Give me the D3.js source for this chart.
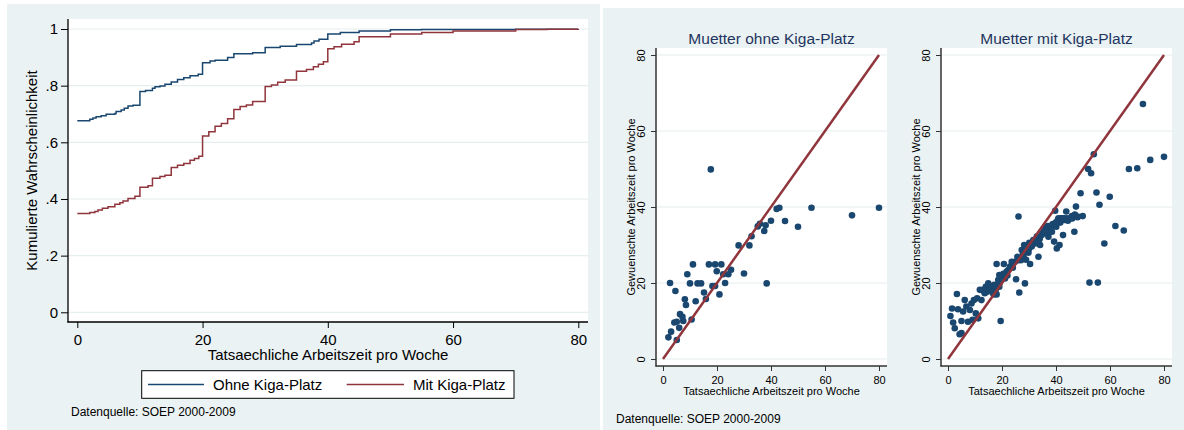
<!DOCTYPE html>
<html>
<head>
<meta charset="utf-8">
<script src="https://cdn.jsdelivr.net/npm/d3@7"></script>
<style>
  body { margin: 0; background: #fff; }
  svg { display: block; }
  text { font-family: "Liberation Sans", Arial, sans-serif; }
</style>
</head>
<body>
<svg id="chart" width="1184" height="430"></svg>
<script>
// ---- data: cumulative distribution (left chart) ----
var ohneHours = [0, 2, 2.5, 3, 3.8, 4.6, 6, 6.2, 7, 7.5, 8.1, 8.9, 10, 10.9, 12, 12.4, 13.2, 14, 15, 16, 17, 18, 19.3, 20, 21.2, 22, 24, 25, 28, 30, 32.4, 35, 37.4, 37.8, 38.6, 40, 42, 45, 50, 55, 70, 80];
var ohneCum   = [0.676, 0.681, 0.686, 0.690, 0.694, 0.699, 0.702, 0.709, 0.714, 0.720, 0.728, 0.731, 0.779, 0.783, 0.791, 0.796, 0.799, 0.805, 0.813, 0.822, 0.828, 0.835, 0.840, 0.881, 0.887, 0.890, 0.899, 0.913, 0.916, 0.935, 0.939, 0.945, 0.951, 0.958, 0.964, 0.982, 0.988, 0.993, 0.997, 0.998, 0.999, 1.0];

var mitHours = [0, 2, 2.8, 3.3, 4, 4.9, 6, 6.8, 7.3, 8.1, 9.2, 10, 11.3, 12, 13.2, 14, 15, 16, 17, 18, 18.7, 19.4, 20, 21, 22, 23, 24, 25, 26, 27, 28, 30, 31, 32, 33.2, 35, 36.6, 37.7, 38.5, 39.3, 40, 41, 42.2, 44.2, 45, 50, 55, 60, 70, 75, 80];
var mitCum   = [0.349, 0.352, 0.356, 0.361, 0.367, 0.373, 0.381, 0.387, 0.393, 0.402, 0.410, 0.441, 0.447, 0.473, 0.479, 0.484, 0.511, 0.519, 0.525, 0.537, 0.543, 0.551, 0.622, 0.637, 0.657, 0.666, 0.683, 0.716, 0.726, 0.732, 0.744, 0.797, 0.802, 0.812, 0.820, 0.851, 0.857, 0.867, 0.876, 0.884, 0.930, 0.937, 0.946, 0.955, 0.973, 0.982, 0.988, 0.993, 0.998, 0.999, 1.0];

var cdfXTicks = [0, 20, 40, 60, 80];
var cdfYTicks = [0, 0.2, 0.4, 0.6, 0.8, 1];
var cdfYLabels = ["0", ".2", ".4", ".6", ".8", "1"];
var legendLabels = ["Ohne Kiga-Platz", "Mit Kiga-Platz"];

// ---- data: scatter (right charts), actual vs. desired hours ----
var ohneActual  = [2, 3, 2.6, 4.6, 4.2, 5.1, 5.1, 6.3, 6, 7.2, 7.5, 8.1, 8.5, 9, 10, 10.6, 11.1, 12.1, 12.8, 14.1, 15.2, 15.9, 17, 18.3, 19.3, 19.9, 19.3, 20.9, 21.6, 22.3, 23, 24.2, 25.2, 28, 30, 32, 32.8, 35.1, 35.9, 37.5, 38, 38.4, 40, 42.1, 43.1, 45.2, 50, 55, 70, 80, 17.7];
var ohneDesired = [5.7, 7.2, 20, 17.9, 9.6, 9.8, 5, 11.8, 8.2, 11.1, 10, 15.7, 14.2, 22.3, 19.9, 10.4, 24.9, 15.2, 19.9, 19.9, 17.5, 15.8, 24.9, 19.2, 24.9, 23.1, 19.2, 17, 24.9, 22.3, 20, 22.3, 23.5, 29.9, 22.5, 29.9, 32.3, 34.9, 35.6, 33.7, 35.2, 19.9, 36.4, 39.5, 39.8, 36.3, 34.8, 39.8, 37.8, 39.8, 49.9];

var mitActual  = [0.9, 1.5, 1.9, 2.5, 3.3, 3.7, 4.3, 5, 5, 5.6, 6.2, 6.8, 7.4, 8.1, 8.7, 9.1, 9.6, 10.3, 10.8, 11.2, 11.8, 12.4, 12.8, 13.6, 14, 14.5, 14.9, 15.5, 16.1, 16.7, 17.1, 17.6, 18, 18.2, 18.6, 19, 19.2, 19.5, 19.9, 20.5, 20.7, 21.1, 21.7, 22.3, 23, 23.6, 24.2, 24.8, 25.2, 25.7, 26.1, 26.4, 26.7, 27.3, 27.7, 28.2, 28.5, 28.9, 29.2, 29.8, 30.1, 30.4, 31, 31.6, 32.3, 32.9, 33.5, 33.9, 34.1, 34.7, 35.4, 36, 36.4, 36.8, 37.2, 37.8, 38.5, 38.8, 39.3, 39.7, 40.1, 40.3, 40.7, 40.9, 41.3, 41.6, 42.2, 42.6, 43.1, 43.8, 44.4, 45.3, 45.9, 46.8, 47.4, 48, 49.1, 49.9, 51.9, 52.4, 53, 54, 55, 55.5, 56.1, 57.9, 59.9, 62, 65.1, 67, 70.1, 72.2, 74.9, 80,
                  13, 15, 16, 17, 18, 19, 21, 22, 24, 26, 27, 28, 29, 30, 31, 33, 34, 35, 36, 37, 38, 39, 40, 41, 42, 43, 44, 46, 47, 48];
var mitDesired = [11.3, 13.3, 9.6, 8.1, 17.1, 13.1, 6.5, 6.8, 10, 12.5, 15.5, 13.8, 9.8, 12.9, 14.6, 10.3, 15.5, 12, 16, 10.7, 18.2, 15.5, 18.2, 17.3, 19, 17.7, 19.9, 18.3, 19, 17.3, 19.5, 18, 25, 18.9, 20.8, 22.1, 20.1, 10, 21.7, 22.4, 25, 21.2, 23, 23.4, 24.3, 25.6, 25.2, 25.6, 21, 26.9, 37.5, 17.5, 26.5, 28.7, 27.4, 30, 19.9, 26.1, 28.7, 28, 30.6, 25, 29.6, 31.3, 30.4, 32.2, 26.9, 31.5, 30, 32.6, 33.5, 34.8, 33.1, 34.1, 32.2, 35, 33.5, 35.5, 30.9, 39, 34.8, 29.1, 36.6, 37, 30, 35.9, 37, 32.6, 36.6, 38.8, 36.4, 37, 37.6, 33.5, 40.1, 37.3, 43.6, 37.6, 50, 20.1, 48.9, 53.9, 43.8, 20.1, 40.6, 30.4, 42.7, 35, 33.8, 50, 50.2, 67.1, 52.4, 53.2,
                  18, 19, 18, 17, 17, 19, 22, 22, 24, 26, 26, 27, 29, 29, 30, 31, 32, 33, 34, 35, 35, 35, 36, 36, 37, 37, 37, 37, 38, 37.5];

var scatterTicks = [0, 20, 40, 60, 80];
var panelTitles = ["Muetter ohne Kiga-Platz", "Muetter mit Kiga-Platz"];
var xTitle = "Tatsaechliche Arbeitszeit pro Woche";
var yTitleScatter = "Gewuenschte Arbeitszeit pro Woche";
var sourceNote = "Datenquelle: SOEP 2000-2009";

var bg = "#eaf2f3", grid = "#e6eef0", navy = "#1a476f", maroon = "#90353b";

var svg = d3.select("#chart");
svg.append("rect").attr("width", 1184).attr("height", 430).attr("fill", "#fff");

// ================= left chart: cumulative distribution =================
function drawCdf() {
  var g = svg.append("g");
  g.append("rect").attr("x", 7).attr("y", 4).attr("width", 593).attr("height", 426).attr("fill", bg);
  g.append("rect").attr("x", 68).attr("y", 19).attr("width", 520).attr("height", 303).attr("fill", "#fff");

  var x = d3.scaleLinear().domain([0, 80]).range([77.3, 578.3]);
  var y = d3.scaleLinear().domain([0, 1]).range([312.3, 29]);

  // grid
  g.selectAll(".grid").data(cdfYTicks).enter().append("line")
      .attr("x1", 68).attr("x2", 588)
      .attr("y1", function(d) { return y(d); }).attr("y2", function(d) { return y(d); })
      .attr("stroke", grid).attr("stroke-width", 1.2);

  // lines
  var line = d3.line().curve(d3.curveStepAfter)
      .x(function(d) { return x(d[0]); })
      .y(function(d) { return y(d[1]); });
  g.append("path").datum(d3.zip(ohneHours, ohneCum))
      .attr("d", line).attr("fill", "none").attr("stroke", navy).attr("stroke-width", 1.5);
  g.append("path").datum(d3.zip(mitHours, mitCum))
      .attr("d", line).attr("fill", "none").attr("stroke", maroon).attr("stroke-width", 1.5);

  // axes
  var yAxis = g.append("g").attr("transform", "translate(68,0)")
      .call(d3.axisLeft(y).tickValues(cdfYTicks).tickSize(7).tickPadding(3)
        .tickFormat(function(d, i) { return cdfYLabels[i]; }));
  yAxis.select(".domain").remove();
  yAxis.selectAll("text").attr("font-size", 15).attr("fill", "#000").style("font-family", "Liberation Sans, Arial, sans-serif");
  yAxis.selectAll("line").attr("stroke", "#000");

  var xAxis = g.append("g").attr("transform", "translate(0,322)")
      .call(d3.axisBottom(x).tickValues(cdfXTicks).tickSize(6).tickPadding(6));
  xAxis.select(".domain").remove();
  xAxis.selectAll("text").attr("font-size", 15).attr("fill", "#000").style("font-family", "Liberation Sans, Arial, sans-serif");
  xAxis.selectAll("line").attr("stroke", "#000");

  g.append("line").attr("x1", 68).attr("x2", 68).attr("y1", 19).attr("y2", 322.5).attr("stroke", "#000").attr("stroke-width", 1.3);
  g.append("line").attr("x1", 67.5).attr("x2", 588).attr("y1", 322).attr("y2", 322).attr("stroke", "#000").attr("stroke-width", 1.3);

  // axis titles
  g.append("text").attr("x", 328).attr("y", 359.5).attr("text-anchor", "middle")
      .attr("font-size", 15).text(xTitle);
  g.append("text").attr("transform", "translate(37,170.5) rotate(-90)").attr("text-anchor", "middle")
      .attr("font-size", 15).text("Kumulierte Wahrscheinlichkeit");

  // legend
  var lg = g.append("g");
  lg.append("rect").attr("x", 141.7).attr("y", 370.7).attr("width", 372.3).attr("height", 27.6)
      .attr("fill", "#fff").attr("stroke", "#000").attr("stroke-width", 1);
  var items = [{x1: 148, x2: 204, tx: 213, c: navy}, {x1: 346.7, x2: 404, tx: 413, c: maroon}];
  items.forEach(function(it, i) {
    lg.append("line").attr("x1", it.x1).attr("x2", it.x2).attr("y1", 384.5).attr("y2", 384.5)
        .attr("stroke", it.c).attr("stroke-width", 1.5);
    lg.append("text").attr("x", it.tx).attr("y", 390).attr("font-size", 15).text(legendLabels[i]);
  });

  g.append("text").attr("x", 71).attr("y", 416).attr("font-size", 12).text(sourceNote);
}

// ================= right charts: scatter =================
function drawScatter(g, left, actual, desired, title) {
  var axisX = left, right = left + 231;
  var x = d3.scaleLinear().domain([0, 80]).range([left + 7, left + 223]);
  var y = d3.scaleLinear().domain([0, 80]).range([359, 55]);

  g.append("rect").attr("x", axisX).attr("y", 48).attr("width", right - axisX).attr("height", 318).attr("fill", "#fff");

  g.selectAll(null).data(scatterTicks).enter().append("line")
      .attr("x1", axisX).attr("x2", right)
      .attr("y1", function(d) { return y(d); }).attr("y2", function(d) { return y(d); })
      .attr("stroke", grid).attr("stroke-width", 1.2);

  g.selectAll(null).data(d3.zip(actual, desired)).enter().append("circle")
      .attr("cx", function(d) { return x(d[0]); })
      .attr("cy", function(d) { return y(d[1]); })
      .attr("r", 3.3).attr("fill", navy);

  g.append("line")
      .attr("x1", x(0)).attr("y1", y(0)).attr("x2", x(80)).attr("y2", y(80))
      .attr("stroke", maroon).attr("stroke-width", 2.5);

  var yAxis = g.append("g").attr("transform", "translate(" + axisX + ",0)")
      .call(d3.axisLeft(y).tickValues(scatterTicks).tickSize(5));
  yAxis.select(".domain").remove();
  yAxis.selectAll("line").attr("stroke", "#333");
  yAxis.selectAll("text").attr("font-size", 11).attr("fill", "#000")
      .style("font-family", "Liberation Sans, Arial, sans-serif")
      .attr("transform", "rotate(-90)").attr("x", 0).attr("y", -11).attr("dy", 0)
      .attr("text-anchor", "middle");

  var xAxis = g.append("g").attr("transform", "translate(0,366)")
      .call(d3.axisBottom(x).tickValues(scatterTicks).tickSize(5).tickPadding(5));
  xAxis.select(".domain").remove();
  xAxis.selectAll("line").attr("stroke", "#333");
  xAxis.selectAll("text").attr("font-size", 11).attr("fill", "#000")
      .style("font-family", "Liberation Sans, Arial, sans-serif");

  g.append("line").attr("x1", axisX).attr("x2", axisX).attr("y1", 48).attr("y2", 366.5).attr("stroke", "#333").attr("stroke-width", 1.5);
  g.append("line").attr("x1", axisX - 0.5).attr("x2", right).attr("y1", 366).attr("y2", 366).attr("stroke", "#333").attr("stroke-width", 1.5);

  var mid = (axisX + right) / 2;
  g.append("text").attr("x", mid).attr("y", 43.5).attr("text-anchor", "middle")
      .attr("font-size", 15.5).attr("fill", "#1f3560").text(title);
  g.append("text").attr("x", mid).attr("y", 394.5).attr("text-anchor", "middle")
      .attr("font-size", 11).text(xTitle);
  g.append("text").attr("transform", "translate(" + (axisX - 21) + ",207) rotate(-90)")
      .attr("text-anchor", "middle").attr("font-size", 11).text(yTitleScatter);
}

drawCdf();

var rg = svg.append("g");
rg.append("rect").attr("x", 603).attr("y", 8).attr("width", 581).attr("height", 422).attr("fill", bg);
drawScatter(rg.append("g"), 656, ohneActual, ohneDesired, panelTitles[0]);
drawScatter(rg.append("g"), 941, mitActual, mitDesired, panelTitles[1]);
rg.append("text").attr("x", 616).attr("y", 422.5).attr("font-size", 12).text(sourceNote);
</script>
</body>
</html>
